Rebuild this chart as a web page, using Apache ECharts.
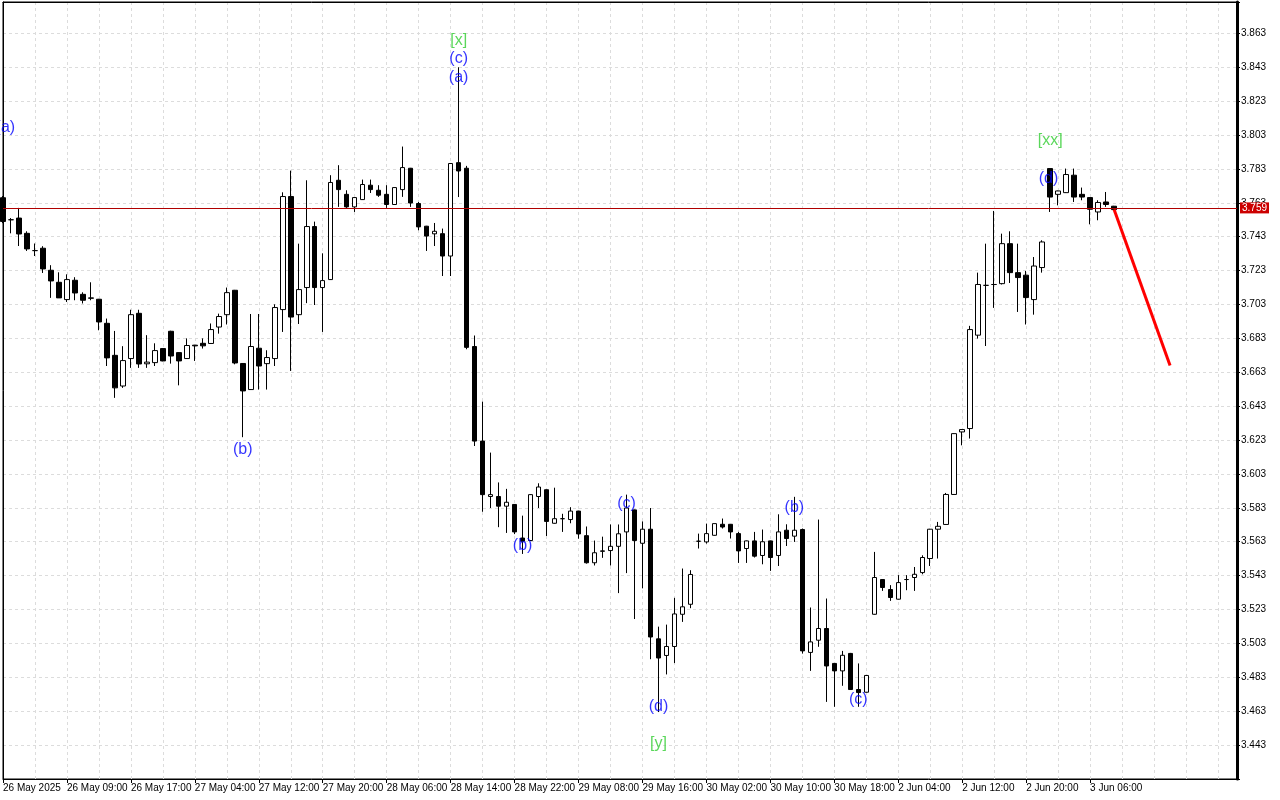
<!DOCTYPE html>
<html><head><meta charset="utf-8">
<script src="https://cdn.jsdelivr.net/npm/echarts@6/dist/echarts.min.js"></script>
<style>html,body{margin:0;padding:0;background:#fff}#c{width:1280px;height:800px}</style>
</head><body><div id="c"></div>
<script>
// ---- tick labels ----
const xTickLabels = ['26 May 2025','26 May 09:00','26 May 17:00','27 May 04:00','27 May 12:00','27 May 20:00',
  '28 May 06:00','28 May 14:00','28 May 22:00','29 May 08:00','29 May 16:00','30 May 02:00','30 May 10:00',
  '30 May 18:00','2 Jun 04:00','2 Jun 12:00','2 Jun 20:00','3 Jun 06:00'];
const yTickLabels = ['3.443','3.463','3.483','3.503','3.523','3.543','3.563','3.583','3.603','3.623','3.643',
  '3.663','3.683','3.703','3.723','3.743','3.763','3.783','3.803','3.823','3.843','3.863'];

// ---- hourly candles (bar index = position) ----
const open = [3.766,3.753,3.754,3.745,3.7348,3.7362,3.7232,3.7161,3.7059,3.7173,
  3.709,3.7069,3.7061,3.6919,3.673,3.6549,3.6711,3.6978,3.668,3.6687,
  3.677,3.6872,3.6746,3.6711,3.679,3.6801,3.68,3.6897,3.697,3.7114,
  3.6682,3.6528,3.6772,3.6681,3.6711,3.700,3.7667,3.697,3.713,3.749,
  3.713,3.7177,3.7763,3.768,3.7606,3.7649,3.7734,3.7704,3.768,3.762,
  3.7708,3.7834,3.7626,3.7492,3.7447,3.7448,3.7316,3.7867,3.7834,3.6782,
  3.6224,3.5897,3.5897,3.584,3.585,3.5652,3.5637,3.5897,3.5937,3.5739,
  3.5766,3.5761,3.5811,3.5666,3.5506,3.5576,3.5578,3.5603,3.5688,3.5818,
  3.5621,3.5704,3.5057,3.4959,3.5012,3.5202,3.5261,3.5633,3.5629,3.5668,
  3.5733,3.5733,3.5678,3.559,3.5635,3.5549,3.5635,3.5549,3.5698,3.5663,
  3.5702,3.4977,3.5049,3.5118,3.4912,3.4868,3.4971,3.4758,3.4742,3.5202,
  3.5407,3.5348,3.5291,3.5407,3.5419,3.5448,3.5531,3.5704,3.5732,3.5909,
  3.6278,3.6298,3.6849,3.7143,3.7148,3.7153,3.7389,3.7218,3.7203,3.7059,
  3.7248,3.7832,3.768,3.769,3.7793,3.768,3.7661,3.7576,3.7635,3.761];
const high = [3.767,3.754,3.760,3.7462,3.739,3.7374,3.7262,3.722,3.7208,3.7191,
  3.7102,3.7161,3.7063,3.6947,3.6874,3.6784,3.6999,3.6999,3.6849,3.6801,
  3.6772,3.6875,3.6748,3.683,3.6792,3.683,3.6918,3.6976,3.713,3.7116,
  3.6684,3.6974,3.6974,3.676,3.7031,3.7692,3.782,3.7389,3.7763,3.7519,
  3.7332,3.7793,3.7852,3.7704,3.7663,3.7767,3.7767,3.7734,3.7734,3.7722,
  3.7962,3.7836,3.7635,3.7494,3.7511,3.7478,3.7865,3.843,3.7848,3.6847,
  3.6457,3.6156,3.598,3.5942,3.5852,3.5784,3.591,3.5975,3.5939,3.5949,
  3.5795,3.5834,3.5813,3.572,3.5637,3.566,3.5732,3.5732,3.5908,3.582,
  3.575,3.5829,3.5129,3.5141,3.5299,3.5472,3.5462,3.5678,3.5737,3.5737,
  3.5767,3.5735,3.5688,3.5637,3.5688,3.5702,3.5637,3.5792,3.5733,3.5895,
  3.5708,3.5242,3.5761,3.5295,3.4914,3.4986,3.4974,3.4912,3.4843,3.557,
  3.5409,3.5374,3.5433,3.5433,3.5481,3.555,3.5706,3.5747,3.5918,3.627,
  3.6294,3.6904,3.7218,3.7389,3.7582,3.7448,3.7462,3.7389,3.7228,3.731,
  3.7409,3.7834,3.7702,3.7832,3.7832,3.772,3.7664,3.7645,3.7694,3.7612];
const low = [3.751,3.745,3.7375,3.7346,3.7316,3.7216,3.7069,3.7069,3.7045,3.7055,
  3.7036,3.7055,3.6878,3.6667,3.6479,3.6538,3.6656,3.6656,3.6656,3.6667,
  3.6695,3.6681,3.6553,3.6709,3.6697,3.677,3.6798,3.6858,3.6912,3.6677,
  3.6247,3.6526,3.6528,3.6528,3.6667,3.6868,3.6638,3.6915,3.7038,3.7027,
  3.6868,3.7175,3.7606,3.760,3.7576,3.7647,3.7688,3.7665,3.760,3.7618,
  3.7665,3.7606,3.7468,3.7346,3.7375,3.7198,3.7198,3.7664,3.6766,3.6195,
  3.5807,3.5829,3.5716,3.5682,3.5675,3.5558,3.5635,3.5829,3.5664,3.5737,
  3.5688,3.5739,3.5648,3.5501,3.549,3.5535,3.549,3.5327,3.5445,3.5174,
  3.5355,3.4937,3.4625,3.4847,3.4914,3.5157,3.5238,3.559,3.5619,3.5666,
  3.5708,3.5649,3.5505,3.5505,3.5537,3.5497,3.5458,3.5487,3.5605,3.5629,
  3.497,3.4868,3.501,3.4685,3.4656,3.478,3.4756,3.4656,3.474,3.520,
  3.534,3.5281,3.5289,3.5344,3.534,3.5438,3.5487,3.5531,3.573,3.5907,
  3.6199,3.6239,3.6829,3.6785,3.701,3.7148,3.7157,3.6986,3.6912,3.697,
  3.7218,3.7576,3.7615,3.7688,3.7635,3.7645,3.7503,3.7527,3.7606,3.7588];
const close = [3.752,3.753,3.7446,3.7358,3.7348,3.724,3.7169,3.7069,3.7177,3.7098,
  3.7055,3.7067,3.6927,3.6715,3.6538,3.6699,3.697,3.6679,3.669,3.6758,
  3.6697,3.6726,3.6697,3.6788,3.6786,3.6786,3.6882,3.6959,3.71,3.6685,
  3.652,3.6782,3.6667,3.6717,3.7012,3.7667,3.6956,3.7118,3.749,3.713,
  3.7171,3.775,3.7708,3.7606,3.7661,3.7738,3.7708,3.7675,3.762,3.772,
  3.7838,3.7629,3.7488,3.7434,3.7462,3.7316,3.7862,3.7818,3.6777,3.6224,
  3.5908,3.5908,3.584,3.5863,3.5688,3.5633,3.5908,3.5953,3.575,3.5766,
  3.5766,3.5811,3.5676,3.5506,3.5565,3.5574,3.5603,3.5677,3.5829,3.5637,
  3.5704,3.5068,3.4944,3.5012,3.5204,3.5246,3.5437,3.5633,3.5678,3.5737,
  3.5717,3.5688,3.5576,3.5635,3.5545,3.563,3.5537,3.5688,3.5649,3.5698,
  3.4986,3.5039,3.5118,3.4897,3.4868,3.496,3.4758,3.474,3.4841,3.5419,
  3.536,3.5301,3.5389,3.5407,3.5438,3.5537,3.5704,3.5721,3.5909,3.6268,
  3.6292,3.6882,3.7148,3.7143,3.7148,3.7389,3.7218,3.7189,3.7071,3.7257,
  3.7399,3.7664,3.770,3.7797,3.7664,3.7664,3.7592,3.7632,3.762,3.759];

const lastPrice = 3.759;
// forecast arrow (bar index, price)
const forecastBars = [139, 146];
const forecastPrices = [3.759, 3.667];

// Elliott wave marks
const blueWaveText = ['(a)','(b)','(c)','(a)','(b)','(c)','(d)','(b)','(c)','(d)'];
const blueWaveBar = [0.3, 30, 57, 57, 65, 78, 82, 99, 107, 130.8];
const blueWavePrice = [3.8076, 3.6175, 3.8483, 3.8371, 3.561, 3.5857, 3.466, 3.5834, 3.4701, 3.7775];
const greenWaveText = ['[x]','[y]','[xx]'];
const greenWaveBar = [57, 82, 131];
const greenWavePrice = [3.8589, 3.4441, 3.7999];

const AXIS_MAX_BARS = 154.375;
const BARS_PER_LABEL = 8;
const Y_MIN = 3.423, Y_MAX = 3.8815;
const FONT = 'Liberation Sans';
const GRID_LINE = {show: true, lineStyle: {color: '#dcdcdc', type: [3, 3], width: 1}};
const xLabelBars = xTickLabels.map((_, i) => i * BARS_PER_LABEL);

const chart = echarts.init(document.getElementById('c'));
chart.setOption({
  animation: false,
  grid: {left: 2, right: 43, top: 2, bottom: 21, show: true, borderColor: '#000', borderWidth: 1, backgroundColor: '#fff'},
  xAxis: [
    {type: 'value', min: 0, max: AXIS_MAX_BARS, interval: BARS_PER_LABEL, position: 'bottom',
      axisLine: {show: true, onZero: false, lineStyle: {color: '#000', width: 1}},
      axisTick: {show: true, length: 4, lineStyle: {color: '#000'}, customValues: xLabelBars},
      axisLabel: {show: true, margin: 4, align: 'left', color: '#000', fontFamily: FONT, fontSize: 10,
        customValues: xLabelBars, showMinLabel: true, showMaxLabel: true,
        formatter: v => (Number.isInteger(v) && v % BARS_PER_LABEL === 0 && xTickLabels[v / BARS_PER_LABEL]) ? xTickLabels[v / BARS_PER_LABEL] : ''},
      splitLine: {show: false}},
    {type: 'value', min: 0, max: AXIS_MAX_BARS, interval: 4, position: 'top',
      axisLine: {show: true, onZero: false, lineStyle: {color: '#000', width: 1}},
      axisTick: {show: false}, axisLabel: {show: false},
      splitLine: GRID_LINE}
  ],
  yAxis: [
    {type: 'value', position: 'right', min: Y_MIN, max: Y_MAX, interval: 0.02,
      axisLine: {show: true, onZero: false, lineStyle: {color: '#000', width: 3}},
      axisTick: {show: true, length: 3, lineStyle: {color: '#000'}},
      axisLabel: {margin: 4, color: '#000', fontFamily: FONT, fontSize: 10,
        formatter: v => yTickLabels.includes(v.toFixed(3)) ? v.toFixed(3) : ''},
      splitLine: GRID_LINE},
    {type: 'value', position: 'left', min: Y_MIN, max: Y_MAX, interval: 0.02,
      axisLine: {show: true, onZero: false, lineStyle: {color: '#000', width: 1}},
      axisTick: {show: false}, axisLabel: {show: false}, splitLine: {show: false}}
  ],
  series: [
    {type: 'candlestick', xAxisIndex: 0, yAxisIndex: 0, barWidth: 5,
      data: open.map((o, i) => [i, o, close[i], low[i], high[i]]),
      encode: {x: 0, y: [1, 2, 3, 4]},
      itemStyle: {color: '#fff', color0: '#000', borderColor: '#000', borderColor0: '#000', borderWidth: 1},
      markLine: {silent: true, symbol: ['none', 'none'], animation: false,
        lineStyle: {color: '#b00000', width: 1, type: 'solid'},
        label: {show: true, position: 'end', distance: 3, formatter: lastPrice.toFixed(3), color: '#fff',
          backgroundColor: '#cc0000', padding: [1, 2, 0, 2], fontFamily: FONT, fontSize: 10},
        data: [{yAxis: lastPrice}]}},
    {type: 'line', xAxisIndex: 0, yAxisIndex: 0, z: 5, symbol: 'none',
      data: forecastBars.map((b, i) => [b, forecastPrices[i]]),
      lineStyle: {color: '#ff0000', width: 3}},
    {type: 'scatter', xAxisIndex: 0, yAxisIndex: 0, z: 6, symbolSize: 1, itemStyle: {color: 'rgba(0,0,0,0)'}, clip: false,
      data: blueWaveBar.map((b, i) => [b, blueWavePrice[i]]),
      label: {show: true, position: 'inside', color: '#0000ff', fontFamily: FONT, fontSize: 16,
        formatter: p => blueWaveText[p.dataIndex]}},
    {type: 'scatter', xAxisIndex: 0, yAxisIndex: 0, z: 6, symbolSize: 1, itemStyle: {color: 'rgba(0,0,0,0)'}, clip: false,
      data: greenWaveBar.map((b, i) => [b, greenWavePrice[i]]),
      label: {show: true, position: 'inside', color: '#32cd32', fontFamily: FONT, fontSize: 16,
        formatter: p => greenWaveText[p.dataIndex]}}
  ]
});
</script>
</body></html>
